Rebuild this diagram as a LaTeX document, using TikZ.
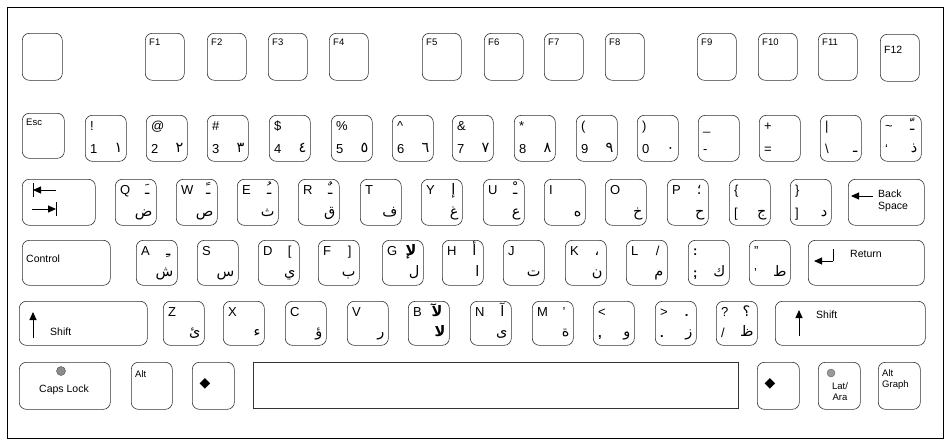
\documentclass[tikz,border=0pt]{standalone}
\usepackage{fontspec}
\setmainfont{Liberation Sans}
\newfontfamily\arabicfont[Script=Arabic]{DejaVu Sans}
\newfontfamily\symbfont{DejaVu Sans}
\TeXXeTstate=1
\usetikzlibrary{arrows.meta}
\tikzset{
  keyb/.style={draw=black!80, line width=0.6pt, rounded corners=7pt, inner sep=0pt, anchor=north west},
  lbl/.style={inner sep=0pt, font=\fontsize{13}{13}\selectfont},
  arb/.style={inner sep=0pt, font=\arabicfont\fontsize{14.5}{14.5}\selectfont},
  sml/.style={inner sep=0pt, font=\fontsize{9.5}{9.5}\selectfont},
  arw/.style={line width=1pt, -{Triangle[length=8pt,width=7pt]}},
}
\newcommand\kk[5]{\node[keyb,minimum width=#4pt,minimum height=#5pt] (#1) at (#2,#3) {};}
\newcommand\ktl[2]{\node[lbl,anchor=base west] (#1tl) at ([shift={(5pt,-15pt)}]#1.north west) {#2};}
\newcommand\kbl[2]{\node[lbl,anchor=base west] (#1bl) at ([shift={(5pt,8pt)}]#1.south west) {#2};}
\newcommand\kbr[2]{\node[arb,anchor=base east] (#1br) at ([shift={(-4pt,9pt)}]#1.south east) {\beginR #2\endR};}
\newcommand\ktr[2]{\node[arb,anchor=base east] (#1tr) at ([shift={(-7pt,-15pt)}]#1.north east) {\beginR #2\endR};}
\newcommand\ktrl[2]{\node[lbl,anchor=base east] (#1tr) at ([shift={(-8pt,-15pt)}]#1.north east) {#2};}
\newcommand\kf[2]{\node[sml,anchor=north west] (#1lab) at ([shift={(4pt,-6pt)}]#1.north west) {#2};}
\begin{document}
\begin{tikzpicture}[x=1pt,y=-1pt]
\useasboundingbox (0,0) rectangle (947,445);
\node[draw, line width=0.8pt, inner sep=0pt, anchor=north west, minimum width=936pt, minimum height=431pt] (frame) at (7,7) {};
% ---------- function row
\kk{kBlank}{22}{33}{40}{47}
\kk{kF1}{145}{33}{39}{47}\kf{kF1}{F1}
\kk{kF2}{207}{33}{39}{47}\kf{kF2}{F2}
\kk{kF3}{268}{33}{39}{47}\kf{kF3}{F3}
\kk{kF4}{329}{33}{39}{47}\kf{kF4}{F4}
\kk{kF5}{422}{33}{39}{47}\kf{kF5}{F5}
\kk{kF6}{484}{33}{39}{47}\kf{kF6}{F6}
\kk{kF7}{544}{33}{39}{47}\kf{kF7}{F7}
\kk{kF8}{605}{33}{39}{47}\kf{kF8}{F8}
\kk{kF9}{697}{33}{39}{47}\kf{kF9}{F9}
\kk{kF10}{758}{33}{39}{47}\kf{kF10}{F10}
\kk{kF11}{818}{33}{39}{47}\kf{kF11}{F11}
\kk{kF12}{880}{34}{39}{47}
\node[inner sep=0pt,font=\fontsize{10.5}{10.5}\selectfont,anchor=north west] (kF12lab) at ([shift={(4pt,-12pt)}]kF12.north west) {F12};
% ---------- number row
\kk{kEsc}{22}{113}{42}{45}\kf{kEsc}{Esc}
\kk{kA1}{85}{115}{41}{46}\ktl{kA1}{!}\kbl{kA1}{1}\kbr{kA1}{١}
\kk{kA2}{146}{115}{41}{46}\ktl{kA2}{@}\kbl{kA2}{2}\kbr{kA2}{٢}
\kk{kA3}{207}{115}{41}{46}\ktl{kA3}{\#}\kbl{kA3}{3}\kbr{kA3}{٣}
\kk{kA4}{269}{115}{41}{46}\ktl{kA4}{\$}\kbl{kA4}{4}\kbr{kA4}{٤}
\kk{kA5}{331}{115}{41}{46}\ktl{kA5}{\%}\kbl{kA5}{5}\kbr{kA5}{٥}
\kk{kA6}{392}{115}{41}{46}\ktl{kA6}{\^{}}\kbl{kA6}{6}\kbr{kA6}{٦}
\kk{kA7}{452}{115}{41}{46}\ktl{kA7}{\&}\kbl{kA7}{7}\kbr{kA7}{٧}
\kk{kA8}{514}{115}{41}{46}\ktl{kA8}{*}\kbl{kA8}{8}\kbr{kA8}{٨}
\kk{kA9}{576}{115}{41}{46}\ktl{kA9}{(}\kbl{kA9}{9}\kbr{kA9}{٩}
\kk{kA0}{637}{115}{41}{46}\ktl{kA0}{)}\kbl{kA0}{0}\kbr{kA0}{٠}
\kk{kMin}{698}{115}{41}{46}\ktl{kMin}{\_}\kbl{kMin}{-}
\kk{kEq}{759}{115}{41}{46}\ktl{kEq}{+}\kbl{kEq}{=}
\kk{kBs}{820}{115}{41}{46}\ktl{kBs}{|}\kbl{kBs}{\textbackslash}\kbr{kBs}{ـ}
\kk{kTil}{880}{115}{41}{46}\ktl{kTil}{\textasciitilde}\ktr{kTil}{ـّ}\kbl{kTil}{`}\kbr{kTil}{ذ}
% ---------- qwerty row
\kk{kTab}{22}{179}{73}{46}
\coordinate (tabA1) at (56,190); \coordinate (tabA2) at (33,190);
\coordinate (tabB1) at (32,209); \coordinate (tabB2) at (56,209);
\draw[arw] (tabA1) -- (tabA2);
\draw[line width=1pt] (33,183) -- (33,197);
\draw[arw] (tabB1) -- (tabB2);
\draw[line width=1pt] (56,202) -- (56,216);
\kk{kQ}{115}{179}{41}{46}\ktl{kQ}{Q}\ktr{kQ}{ـَ}\kbr{kQ}{ض}
\kk{kW}{176}{179}{41}{46}\ktl{kW}{W}\ktr{kW}{ـً}\kbr{kW}{ص}
\kk{kE}{237}{179}{41}{46}\ktl{kE}{E}\ktr{kE}{ـُ}\kbr{kE}{ث}
\kk{kR}{298}{179}{41}{46}\ktl{kR}{R}\ktr{kR}{ـٌ}\kbr{kR}{ق}
\kk{kT}{360}{179}{41}{46}\ktl{kT}{T}\kbr{kT}{ف}
\kk{kY}{421}{179}{41}{46}\ktl{kY}{Y}\ktr{kY}{إ}\kbr{kY}{غ}
\kk{kU}{483}{179}{41}{46}\ktl{kU}{U}\ktr{kU}{ـْ}\kbr{kU}{ع}
\kk{kI}{544}{179}{41}{46}\ktl{kI}{I}\kbr{kI}{ه}
\kk{kO}{605}{179}{41}{46}\ktl{kO}{O}\kbr{kO}{خ}
\kk{kP}{667}{179}{41}{46}\ktl{kP}{P}\ktr{kP}{؛}\kbr{kP}{ح}
\kk{kLb}{729}{179}{41}{46}\ktl{kLb}{\{}\kbl{kLb}{[}\kbr{kLb}{ج}
\kk{kRb}{790}{179}{41}{46}\ktl{kRb}{\}}\kbl{kRb}{]}\kbr{kRb}{د}
\kk{kBack}{848}{179}{76}{46}
\coordinate (bkA) at (873,196); \coordinate (bkB) at (851,196);
\draw[arw] (bkA) -- (bkB);
\node[sml,font=\fontsize{10.5}{11.5}\selectfont,align=left,anchor=west] (bkLab) at (878,201) {Back\\Space};
% ---------- home row
\kk{kCtrl}{22}{240}{88}{45}
\node[sml,font=\fontsize{10.5}{10.5}\selectfont,anchor=west] (kCtrlLab) at (26,259) {Control};
\kk{kA}{136}{240}{41}{45}\ktl{kA}{A}\ktr{kA}{ـِ}\kbr{kA}{ش}
\kk{kS}{197}{240}{41}{45}\ktl{kS}{S}\kbr{kS}{س}
\kk{kD}{258}{240}{41}{45}\ktl{kD}{D}\ktrl{kD}{[}\kbr{kD}{ي}
\kk{kF}{318}{240}{41}{45}\ktl{kF}{F}\ktrl{kF}{]}\kbr{kF}{ب}
\kk{kG}{382}{240}{41}{45}\ktl{kG}{G}\ktr{kG}{\bfseries لإ}\kbr{kG}{ل}
\kk{kH}{442}{240}{41}{45}\ktl{kH}{H}\ktr{kH}{أ}\kbr{kH}{ا}
\kk{kJ}{503}{240}{41}{45}\ktl{kJ}{J}\kbr{kJ}{ت}
\kk{kK}{565}{240}{41}{45}\ktl{kK}{K}\ktr{kK}{،}\kbr{kK}{ن}
\kk{kL}{626}{240}{41}{45}\ktl{kL}{L}\ktrl{kL}{/}\kbr{kL}{م}
\kk{kSc}{688}{240}{41}{45}\ktl{kSc}{\textbf{:}}\kbl{kSc}{\textbf{;}}\kbr{kSc}{ك}
\kk{kQt}{749}{240}{41}{45}\ktl{kQt}{"}\kbl{kQt}{’}\kbr{kQt}{ط}
\kk{kRet}{808}{240}{116}{45}
\coordinate (rtA) at (833,249); \coordinate (rtB) at (833,261); \coordinate (rtC) at (814,261);
\draw[line width=1pt] (rtA) -- (rtB);
\draw[arw] (rtB) -- (rtC);
\node[sml,font=\fontsize{10.5}{10.5}\selectfont,anchor=west] (kRetLab) at (850,254) {Return};
% ---------- bottom letter row
\kk{kLSh}{19}{301}{128}{44}
\coordinate (lsA) at (33,338); \coordinate (lsB) at (33,312);
\draw[arw] (lsA) -- (lsB);
\node[sml,font=\fontsize{10.5}{10.5}\selectfont,anchor=west] (kLShLab) at (50,332) {Shift};
\kk{kZ}{163}{301}{41}{44}\ktl{kZ}{Z}\kbr{kZ}{ئ}
\kk{kX}{223}{301}{41}{44}\ktl{kX}{X}\kbr{kX}{ء}
\kk{kC}{285}{301}{41}{44}\ktl{kC}{C}\kbr{kC}{ؤ}
\kk{kV}{347}{301}{41}{44}\ktl{kV}{V}\kbr{kV}{ر}
\kk{kB}{408}{301}{41}{44}\ktl{kB}{B}\ktr{kB}{\bfseries لآ}\kbr{kB}{\bfseries لا}
\kk{kN}{470}{301}{41}{44}\ktl{kN}{N}\ktr{kN}{آ}\kbr{kN}{ى}
\kk{kM}{532}{301}{41}{44}\ktl{kM}{M}\ktrl{kM}{'}\kbr{kM}{ة}
\kk{kCm}{593}{301}{41}{44}\ktl{kCm}{<}\kbl{kCm}{\textbf{,}}\kbr{kCm}{و}
\kk{kDt}{655}{301}{41}{44}\ktl{kDt}{>}\ktrl{kDt}{\textbf{.}}\kbl{kDt}{\textbf{.}}\kbr{kDt}{ز}
\kk{kSl}{716}{301}{41}{44}\ktl{kSl}{?}\ktr{kSl}{؟}\kbl{kSl}{/}\kbr{kSl}{ظ}
\kk{kRSh}{775}{301}{150}{44}
\coordinate (rsA) at (799,336); \coordinate (rsB) at (799,310);
\draw[arw] (rsA) -- (rsB);
\node[sml,font=\fontsize{10.5}{10.5}\selectfont,anchor=west] (kRShLab) at (816,315) {Shift};
% ---------- space row
\kk{kCaps}{19}{362}{91}{47}
\node[circle, fill=black!45, draw=black!70, line width=0.4pt, inner sep=0pt, minimum size=9pt] (capsLed) at (61,371) {};
\node[sml,font=\fontsize{10.5}{10.5}\selectfont] (kCapsLab) at (64,390) {Caps Lock};
\kk{kAlt}{131}{362}{41}{47}
\node[sml,anchor=north west] (kAltLab) at (135,370) {Alt};
\kk{kDiaL}{192}{362}{42}{47}
\node[inner sep=0pt,font=\symbfont\fontsize{14}{14}\selectfont] (diaL) at (205,384) {◆};
\node[draw=black!80, line width=0.6pt, inner sep=0pt, anchor=north west, minimum width=485pt, minimum height=46pt] (kSpace) at (253,362) {};
\kk{kDiaR}{757}{362}{42}{47}
\node[inner sep=0pt,font=\symbfont\fontsize{14}{14}\selectfont] (diaR) at (770,384) {◆};
\kk{kLat}{818}{362}{42}{47}
\node[circle, fill=black!40, draw=black!60, line width=0.4pt, inner sep=0pt, minimum size=8pt] (latLed) at (831,373) {};
\node[sml,align=center,font=\fontsize{9.5}{11}\selectfont] (kLatLab) at (840,392) {Lat/\\Ara};
\kk{kAltGr}{878}{362}{42}{47}
\node[sml,align=left,anchor=north west,font=\fontsize{9.5}{11}\selectfont] (kAltGrLab) at (882,369) {Alt\\Graph};
\end{tikzpicture}
\end{document}
